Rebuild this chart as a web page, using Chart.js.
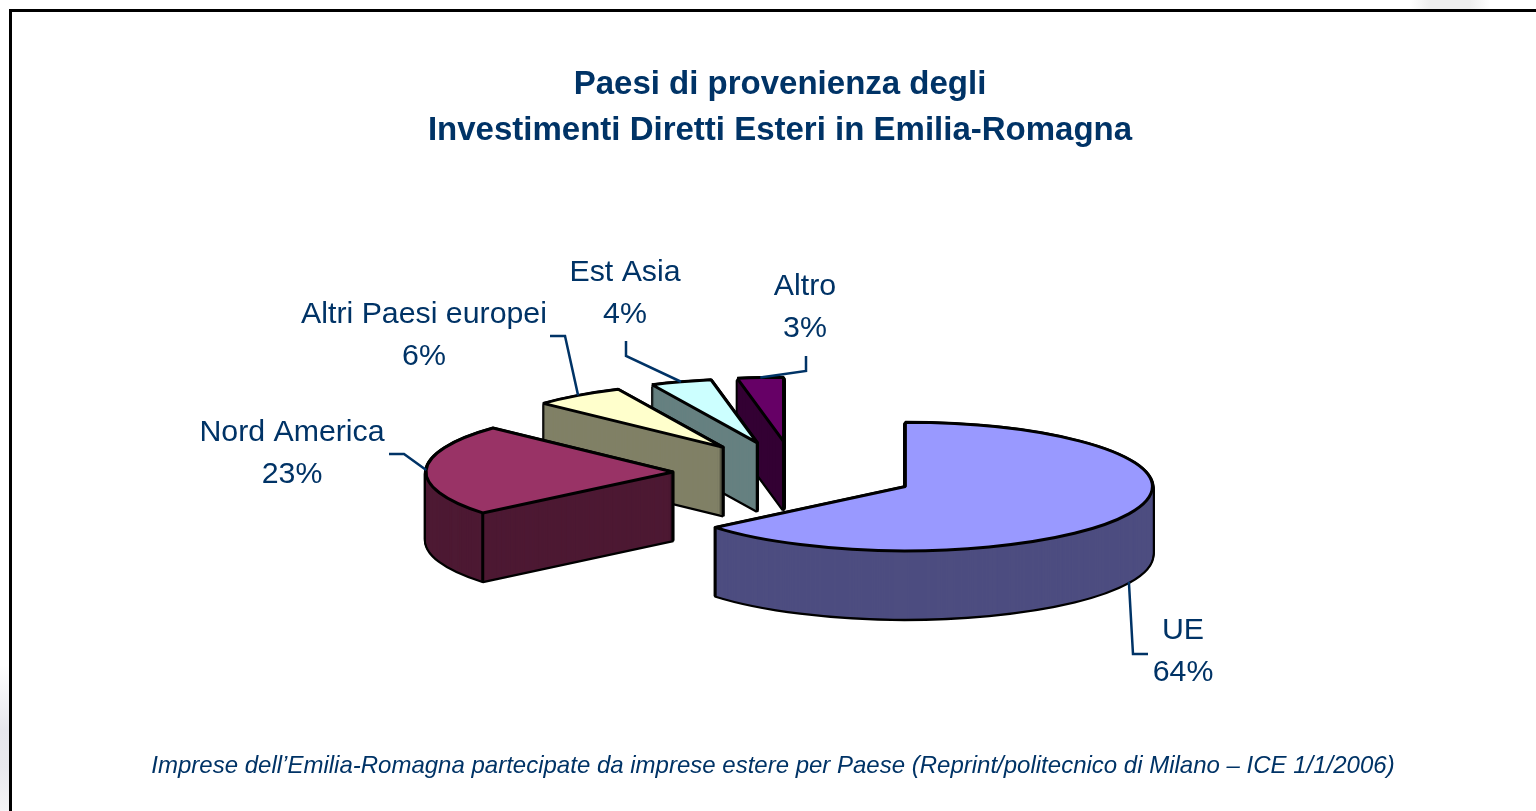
<!DOCTYPE html>
<html><head><meta charset="utf-8">
<style>
html,body{margin:0;padding:0;width:1536px;height:811px;overflow:hidden;background:#fff}
#glowA{position:absolute;left:0;top:665px;width:9px;height:146px;background:linear-gradient(180deg,#fff 0,#e6e6ec 45%,#e9e9ee 70%,#f4f4f6 100%)}
#glowB{position:absolute;left:1410px;top:0;width:80px;height:9px;background:linear-gradient(90deg,#fff 0,#eeeeee 25%,#eeeeee 75%,#fff 100%)}
#frame{position:absolute;left:9px;top:9px;width:1527px;height:802px;box-sizing:border-box;border-left:3px solid #000;border-top:3px solid #000;background:#fff}
#c{position:absolute;left:24px;top:0}
</style>
<script src="https://cdn.jsdelivr.net/npm/chart.js@4"></script>
</head><body>
<div id="glowA"></div><div id="glowB"></div>
<div id="frame"></div>
<canvas id="c" width="1512" height="811" style="width:1512px;height:811px"></canvas>
<script>
const categories = ["UE", "Nord America", "Altri Paesi europei", "Est Asia", "Altro"];
const shares = [64, 23, 6, 4, 3];
const topColors = ["#9999FF", "#993366", "#FFFFCC", "#CCFFFF", "#660066"];
const wallColors = ["#4D4D80", "#4D1933", "#808066", "#668080", "#330033"];
const titleLines = ["Paesi di provenienza degli", "Investimenti Diretti Esteri in Emilia-Romagna"];
const footnote = "Imprese dell\u2019Emilia-Romagna partecipate da imprese estere per Paese (Reprint/politecnico di Milano \u2013 ICE 1/1/2006)";

/* layout of the tilted pie, in page pixels */
const CANVAS_LEFT = 24, PIE_X = 795, PIE_Y = 473, TILT = 0.26, DEPTH = 68, EXPLODE = 122, RADIUS = 247;
const INK = "#003366";
const labelCenters = [[1183,631],[292,433],[424,315],[625,273],[805,287]];
const labelGap = 42;
const leaderElbows = [
  [[1133,654],[1148,654]],
  [[404,454],[389,454]],
  [[565,336],[550,336]],
  [[626,356],[626,341]],
  [[806,371],[806,356]]
];

const tilted3D = {
  id: "tilted3D",
  beforeDatasetsDraw(chart) {
    const ctx = chart.ctx, arcs = chart.getDatasetMeta(0).data;
    const dpr = chart.currentDevicePixelRatio || 1;
    const nativeStroke = ctx.stroke;
    // stroke with an untransformed pen so the outline width stays even on the squashed pie
    const evenStroke = function () {
      ctx.save(); ctx.setTransform(dpr,0,0,dpr,0,0); nativeStroke.call(ctx); ctx.restore();
    };
    const geom = arcs.map(a => {
      const mid = (a.startAngle + a.endAngle) / 2;
      return { ax: PIE_X + Math.cos(mid) * EXPLODE, ay: PIE_Y + Math.sin(mid) * EXPLODE * TILT, mid };
    });
    const place = (a, g, drop) => {
      ctx.translate(g.ax - CANVAS_LEFT, g.ay + drop);
      ctx.scale(1, TILT);
      ctx.translate(-a.x, -a.y);
    };
    const drawAs = (a, g, drop, over) => {
      const saved = a.options;
      a.options = Object.assign({}, saved, over);
      ctx.save(); place(a, g, drop); ctx.stroke = evenStroke; a.draw(ctx); delete ctx.stroke; ctx.restore();
      a.options = saved;
    };
    for (let i = arcs.length - 1; i >= 0; i--) {
      const a = arcs[i], g = geom[i];
      for (let d = DEPTH; d >= 1; d -= 1) drawAs(a, g, d, { backgroundColor:"#000", borderColor:"#000", borderWidth:4.5 });
      for (let d = DEPTH; d >= 0; d -= 1) drawAs(a, g, d, { backgroundColor:wallColors[i], borderWidth:0 });
      // vertical edges that face the viewer
      const corners = [];
      if (a.endAngle - a.startAngle < Math.PI) corners.push([g.ax, g.ay]);
      [a.startAngle, a.endAngle].forEach(t => {
        if (Math.sin(t) > 0) corners.push([g.ax + Math.cos(t) * RADIUS, g.ay + Math.sin(t) * RADIUS * TILT]);
      });
      ctx.save(); ctx.translate(-CANVAS_LEFT, 0);
      ctx.strokeStyle = "#000"; ctx.lineWidth = 3; ctx.lineCap = "round";
      corners.forEach(p => { ctx.beginPath(); ctx.moveTo(p[0], p[1]); ctx.lineTo(p[0], p[1] + DEPTH); ctx.stroke(); });
      ctx.restore();
      drawAs(a, g, 0, { backgroundColor:topColors[i], borderColor:"#000", borderWidth:3 });
    }
    // leaders and labels
    ctx.save(); ctx.translate(-CANVAS_LEFT, 0);
    arcs.forEach((a, i) => {
      const g = geom[i];
      const sx = g.ax + Math.cos(g.mid) * RADIUS;
      const sy = g.ay + Math.sin(g.mid) * RADIUS * TILT + (Math.sin(g.mid) > 0 ? DEPTH : 0);
      ctx.strokeStyle = INK; ctx.lineWidth = 2.5; ctx.lineJoin = "miter";
      ctx.beginPath(); ctx.moveTo(sx, sy);
      leaderElbows[i].forEach(p => ctx.lineTo(p[0], p[1]));
      ctx.stroke();
      ctx.fillStyle = INK; ctx.textAlign = "center"; ctx.textBaseline = "middle";
      ctx.font = "30.3px 'Liberation Sans'";
      const [lx, ly] = labelCenters[i];
      ctx.fillText(categories[i], lx, ly);
      ctx.fillText(shares[i] + "%", lx, ly + labelGap);
    });
    ctx.font = "italic 24px 'Liberation Sans'";
    ctx.fillText(footnote, 773, 766);
    ctx.restore();
    return false;
  }
};

new Chart(document.getElementById("c"), {
  type: "pie",
  data: { labels: categories, datasets: [{ data: shares, backgroundColor: topColors, borderColor: "#000", borderWidth: 3, offset: 0 }] },
  options: {
    responsive: false, animation: false, events: [],
    radius: RADIUS,
    layout: { padding: 0 },
    plugins: {
      legend: { display: false }, tooltip: { enabled: false },
      title: { display: true, text: titleLines, color: INK,
        font: { family: "'Liberation Sans'", size: 33, weight: "bold", lineHeight: 1.394 },
        padding: { top: 62, bottom: 10 } }
    }
  },
  plugins: [tilted3D]
});
</script>
</body></html>
